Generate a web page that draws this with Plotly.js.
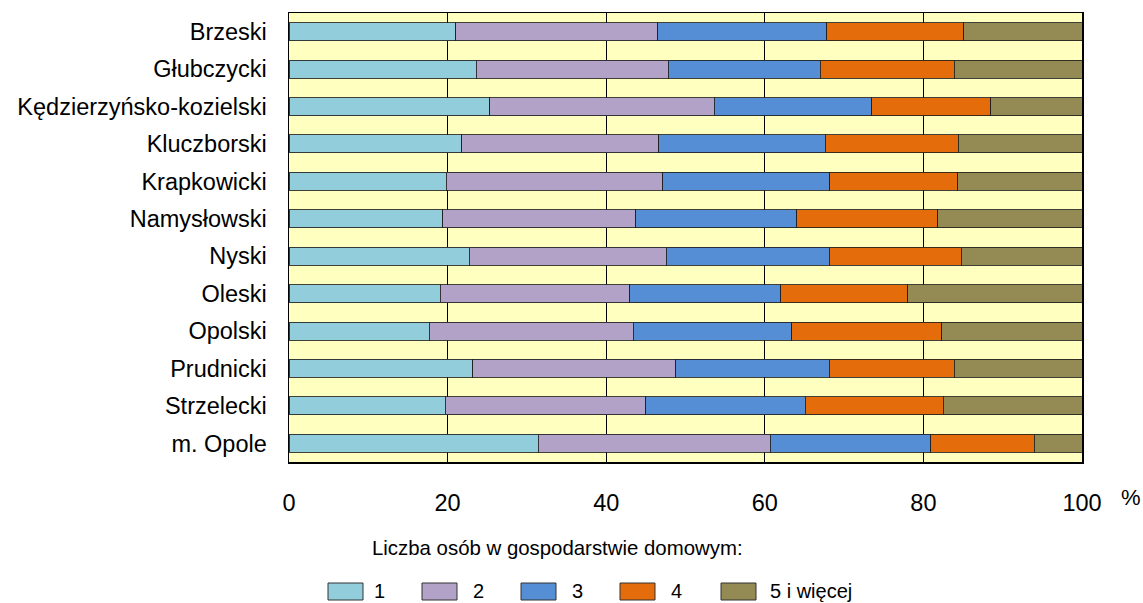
<!DOCTYPE html>
<html>
<head>
<meta charset="utf-8">
<script src="https://cdn.plot.ly/plotly-3.0.1.min.js"></script>
<style>html,body{margin:0;padding:0;background:#fff;}#chart{width:1143px;height:603px;}</style>
</head>
<body>
<div id="chart"></div>
<script>
const categories = ["Brzeski","Głubczycki","Kędzierzyńsko-kozielski","Kluczborski","Krapkowicki","Namysłowski","Nyski","Oleski","Opolski","Prudnicki","Strzelecki","m. Opole"];
const s1 = [21.0, 23.6, 25.3, 21.8, 19.8, 19.4, 22.7, 19.1, 17.7, 23.2, 19.7, 31.4];
const s2 = [25.5, 24.2, 28.3, 24.8, 27.3, 24.3, 24.9, 23.9, 25.7, 25.6, 25.3, 29.3];
const s3 = [21.3, 19.2, 19.9, 21.0, 21.1, 20.3, 20.5, 19.0, 20.0, 19.3, 20.1, 20.2];
const s4 = [17.3, 16.9, 15.0, 16.8, 16.1, 17.8, 16.7, 16.0, 18.9, 15.8, 17.4, 13.1];
const s5 = [14.9, 16.1, 11.5, 15.6, 15.7, 18.2, 15.2, 22.0, 17.7, 16.1, 17.5, 6.0];
const seriesNames = ["1","2","3","4","5 i więcej"];
const seriesColors = ["#92CDDC","#B2A2C7","#558ED5","#E46C0A","#948A54"];
const xTicks = [0,20,40,60,80,100];

const allSeries = [s1,s2,s3,s4,s5];
const traces = allSeries.map((vals,i)=>({
  type:'bar', orientation:'h', x: vals, y: categories, name: seriesNames[i],
  marker:{color: seriesColors[i], line:{color:'rgba(30,30,30,0.85)', width:1}},
  showlegend:false, hoverinfo:'x+y'
}));

const font = {family:'Liberation Sans, Arial, sans-serif', color:'#000'};
const shapes = [];
const annotations = [];
// legend (manual, in pixel-based paper coords)
const W=1143, H=603, L=289, R=61, T=13, B=141;
const pw = W-L-R, ph = H-T-B;
function px2x(p){return (p-L)/pw;}
function py2y(p){return (H-B-p)/ph;}
const boxX = [328, 422, 521, 620, 721];
const txtX = [372, 471, 570, 669, 768];
for(let i=0;i<5;i++){
  shapes.push({type:'rect', xref:'paper', yref:'paper', x0:px2x(boxX[i]), x1:px2x(boxX[i]+35), y0:py2y(600), y1:py2y(583),
    fillcolor:seriesColors[i], line:{color:'#333', width:1}});
  annotations.push({xref:'paper', yref:'paper', x:px2x(txtX[i]), y:py2y(591), xanchor:'left', yanchor:'middle', showarrow:false,
    text:seriesNames[i], font:Object.assign({size:20},font)});
}
annotations.push({xref:'paper', yref:'paper', x:px2x(557), y:py2y(548), xanchor:'center', yanchor:'middle', showarrow:false,
  text:'Liczba osób w gospodarstwie domowym:', font:Object.assign({size:20.4},font)});
annotations.push({xref:'paper', yref:'paper', x:px2x(1131), y:py2y(497), xanchor:'center', yanchor:'middle', showarrow:false,
  text:'%', font:Object.assign({size:22},font)});

const layout = {
  width:W, height:H,
  margin:{l:L, r:R, t:T, b:B, pad:0},
  paper_bgcolor:'#ffffff', plot_bgcolor:'#FFFFC0',
  barmode:'stack', bargap:0.52,
  font:Object.assign({size:22},font),
  xaxis:{range:[0,100], tickvals:xTicks, ticktext:xTicks.map(String), showgrid:true, gridcolor:'#000', gridwidth:1,
    showline:true, linecolor:'#000', linewidth:1.5, mirror:true, zeroline:false,
    ticks:'outside', ticklen:19, tickcolor:'rgba(0,0,0,0)', tickfont:Object.assign({size:23.5},font), fixedrange:true},
  yaxis:{type:'category', categoryorder:'array', categoryarray:categories, autorange:'reversed',
    showline:true, linecolor:'#000', linewidth:1.5, mirror:true, showgrid:false, zeroline:false,
    ticks:'outside', ticklen:16, tickcolor:'rgba(0,0,0,0)', tickfont:Object.assign({size:23.5},font), fixedrange:true},
  shapes:shapes, annotations:annotations
};
Plotly.newPlot('chart', traces, layout, {staticPlot:true, displayModeBar:false});
</script>
</body>
</html>
